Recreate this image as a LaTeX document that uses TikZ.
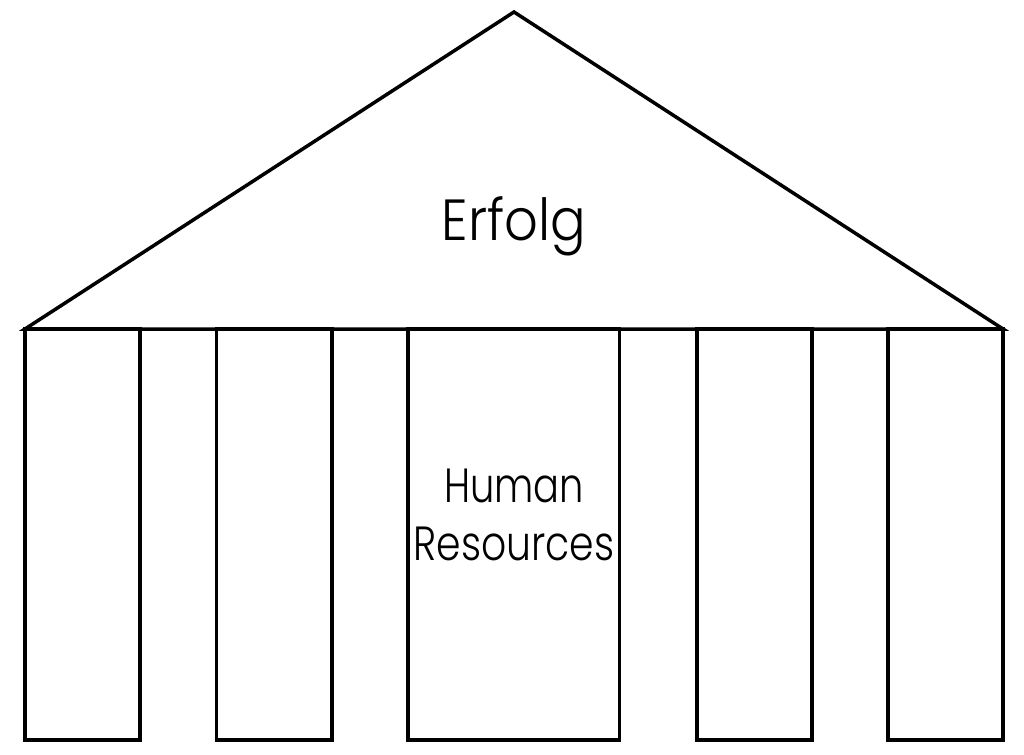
\documentclass[tikz,border=0pt]{standalone}
\usepackage{fontspec}
\usepackage{graphicx}
\setmainfont{Poppins}[UprightFont={* Light}]
\begin{document}
\begin{tikzpicture}[x=1pt,y=-1pt,
  outline/.style={draw=black,line width=3.5pt},
  pillar/.style={outline,rectangle,inner sep=0pt,minimum height=411pt},
  label/.style={inner sep=0pt,text=black}]
\useasboundingbox (0,0) rectangle (1024,754);
\coordinate (bl) at (25,329);
\coordinate (apex) at (514,12);
\coordinate (br) at (1003,329);
\draw[outline,line join=miter] (bl) -- (apex) -- (br) -- cycle;
\node[pillar,minimum width=115pt] (p1) at (82.5,534.5) {};
\node[pillar,minimum width=115.5pt] (p2) at (274.25,534.5) {};
\node[pillar,minimum width=211.5pt] (p3) at (513.75,534.5) {};
\node[pillar,minimum width=115pt] (p4) at (754.5,534.5) {};
\node[pillar,minimum width=115pt] (p5) at (945.5,534.5) {};
\node[label,anchor=base,font=\fontsize{58}{60}\selectfont] (roof) at (514,240) {\scalebox{0.91}[1]{Erfolg}};
\node[label,anchor=base,font=\fontsize{48}{58}\selectfont] (hr1) at (514,502) {\scalebox{0.8}[1]{Human}};
\node[label,anchor=base,font=\fontsize{48}{58}\selectfont] (hr2) at (514,560) {\scalebox{0.82}[1]{Resources}};
\end{tikzpicture}
\end{document}
